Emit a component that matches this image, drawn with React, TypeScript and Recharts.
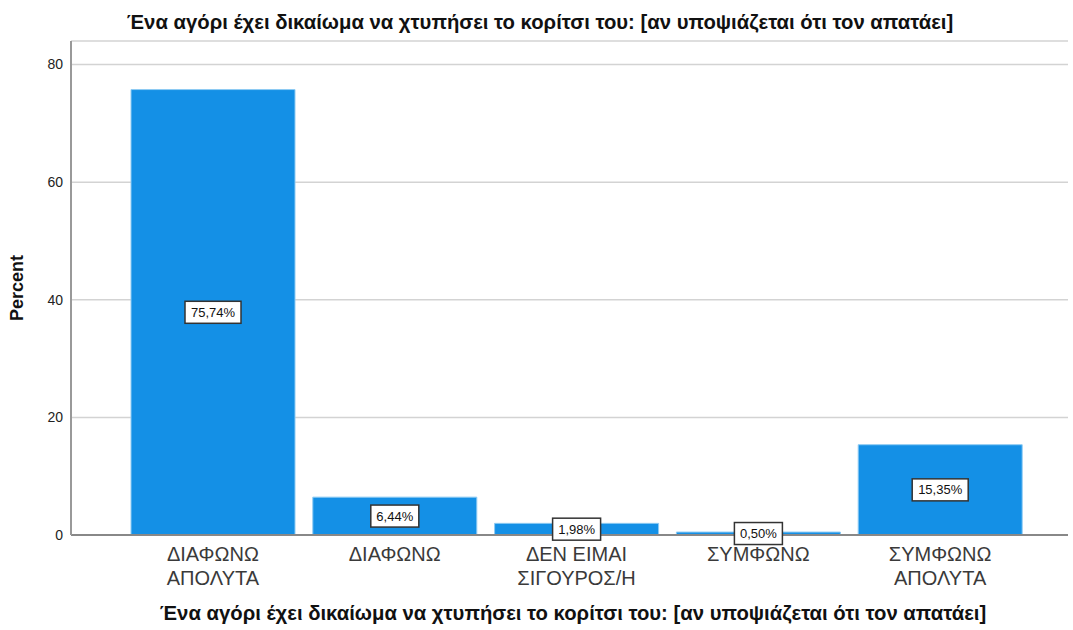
import React from "react";
import { BarChart, Bar, XAxis, YAxis, CartesianGrid, LabelList, Label } from "recharts";

const title = "Ένα αγόρι έχει δικαίωμα να χτυπήσει το κορίτσι του: [αν υποψιάζεται ότι τον απατάει]";
const categories = ["ΔΙΑΦΩΝΩ\nΑΠΟΛΥΤΑ", "ΔΙΑΦΩΝΩ", "ΔΕΝ ΕΙΜΑΙ\nΣΙΓΟΥΡΟΣ/Η", "ΣΥΜΦΩΝΩ", "ΣΥΜΦΩΝΩ\nΑΠΟΛΥΤΑ"];
const percents = [75.74, 6.44, 1.98, 0.5, 15.35];
const yTicks = [0, 20, 40, 60, 80];

const data = categories.map((c, i) => ({ name: c, value: percents[i] }));

const FONT = "'Liberation Sans', Arial, sans-serif";

const XTick = (props: any) => {
  const { x, y, payload } = props;
  const lines = String(payload.value).split("\n");
  return (
    <g transform={`translate(${x},${y})`}>
      {lines.map((l, i) => (
        <text key={i} x={0} y={i * 24} dy={18} textAnchor="middle" fontSize={20} fill="#3a3a3a" fontFamily={FONT}>
          {l}
        </text>
      ))}
    </g>
  );
};

const BoxLabel = (props: any) => {
  const { x, y, width, height, value } = props;
  const txt = Number(value).toFixed(2).replace(".", ",") + "%";
  const w = txt.length * 8 + 8;
  const h = 22;
  const cx = x + width / 2;
  const cy = y + height / 2;
  return (
    <g>
      <rect x={cx - w / 2} y={cy - h / 2} width={w} height={h} fill="#ffffff" stroke="#333333" strokeWidth={1.5} />
      <text x={cx} y={cy} dy={4.5} textAnchor="middle" fontSize={13} fill="#111" fontFamily={FONT}>
        {txt}
      </text>
    </g>
  );
};

export default function App() {
  return (
    <div style={{ position: "absolute", left: 0, top: 0, width: 1073, height: 630, background: "#fff", fontFamily: FONT }}>
      <div style={{ position: "absolute", left: 0, width: 1080, top: 11, textAlign: "center", fontSize: 20.3, fontWeight: "bold", color: "#111" }}>
        {title}
      </div>
      <BarChart width={1073} height={630} data={data} margin={{ top: 41, right: 5, bottom: 0, left: 0 }} barSize={164}>
        <CartesianGrid horizontal vertical={false} stroke="#d3d3d3" strokeWidth={1.5} />
        <XAxis
          dataKey="name"
          tick={<XTick />}
          tickLine={false}
          axisLine={{ stroke: "#888", strokeWidth: 2 }}
          interval={0}
          padding={{ left: 51, right: 37 }}
          height={95}
        />
        <YAxis
          domain={[0, 84]}
          ticks={yTicks}
          tickLine={false}
          axisLine={{ stroke: "#999", strokeWidth: 2 }}
          tick={{ fontSize: 14, fill: "#222", fontFamily: FONT }}
          tickMargin={2}
          width={71}
          allowDataOverflow
        >
          <Label value="Percent" angle={-90} position="insideLeft" offset={17} style={{ fontSize: 18, fontWeight: "bold", fill: "#111", fontFamily: FONT, textAnchor: "middle" }} />
        </YAxis>
        <Bar dataKey="value" fill="#1490e6" stroke="#8ecbf3" strokeWidth={1} isAnimationActive={false}>
          <LabelList dataKey="value" content={<BoxLabel />} />
        </Bar>
      </BarChart>
      <div style={{ position: "absolute", left: 0, width: 1146, top: 602, textAlign: "center", fontSize: 20.3, fontWeight: "bold", color: "#111" }}>
        {title}
      </div>
    </div>
  );
}
